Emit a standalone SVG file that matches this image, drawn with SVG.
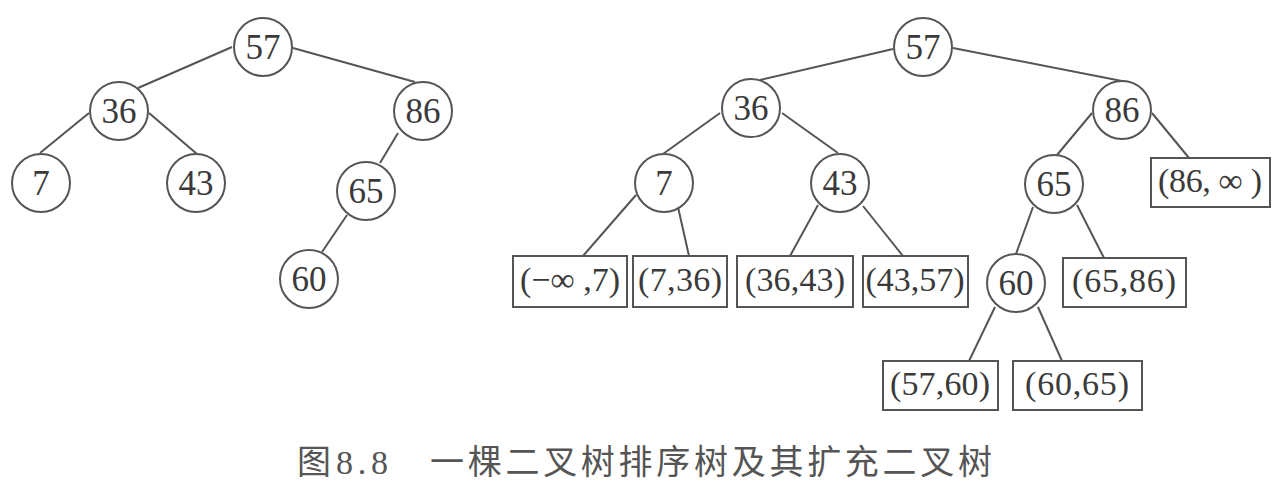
<svg xmlns="http://www.w3.org/2000/svg" width="1281" height="492" viewBox="0 0 1281 492">
<style>
.e{stroke:#555;stroke-width:2;fill:none}
.c{fill:#fff;stroke:#555;stroke-width:2}
.b{fill:#fff;stroke:#555;stroke-width:2}
.t{font-family:"Liberation Serif","Times New Roman",serif;font-size:35px;fill:#3a3a3a;text-anchor:middle}
.bt{font-family:"Liberation Serif","Times New Roman",serif;font-size:34px;fill:#3a3a3a;text-anchor:middle}
.cap{font-family:"Noto Sans CJK SC",sans-serif;font-size:34px;fill:#555}
.capn{font-family:"Liberation Serif",serif;font-size:34px;fill:#555}
</style>
<rect width="1281" height="492" fill="#fff"/>
<g id="connectors">
<line class="e" x1="232" y1="47" x2="138" y2="88"/>
<line class="e" x1="293" y1="48" x2="415" y2="82"/>
<line class="e" x1="89" y1="113" x2="40" y2="153"/>
<line class="e" x1="149" y1="113" x2="197" y2="154"/>
<line class="e" x1="398" y1="133" x2="380" y2="163"/>
<line class="e" x1="347" y1="215" x2="322" y2="252"/>
<line class="e" x1="760" y1="80" x2="893" y2="49"/>
<line class="e" x1="953" y1="48" x2="1127" y2="82"/>
<line class="e" x1="720" y1="113" x2="663" y2="154"/>
<line class="e" x1="782" y1="113" x2="838" y2="153"/>
<line class="e" x1="636" y1="195" x2="583" y2="256"/>
<line class="e" x1="678" y1="207" x2="689" y2="256"/>
<line class="e" x1="818" y1="205" x2="790" y2="256"/>
<line class="e" x1="863" y1="206" x2="903" y2="256"/>
<line class="e" x1="1092" y1="113" x2="1057" y2="155"/>
<line class="e" x1="1152" y1="113" x2="1189" y2="158"/>
<line class="e" x1="1033" y1="207" x2="1016" y2="254"/>
<line class="e" x1="1077" y1="205" x2="1104" y2="258"/>
<line class="e" x1="995" y1="307" x2="969" y2="361"/>
<line class="e" x1="1038" y1="307" x2="1062" y2="361"/>
</g>
<g id="L57"><circle class="c" cx="263" cy="47" r="29"/><text class="t" x="263" y="59">57</text></g>
<g id="L36"><circle class="c" cx="119" cy="111" r="29"/><text class="t" x="119" y="123">36</text></g>
<g id="L86"><circle class="c" cx="423" cy="111" r="29"/><text class="t" x="423" y="123">86</text></g>
<g id="L7"><circle class="c" cx="41" cy="183" r="29"/><text class="t" x="41" y="195">7</text></g>
<g id="L43"><circle class="c" cx="196" cy="183" r="29"/><text class="t" x="196" y="195">43</text></g>
<g id="L65"><circle class="c" cx="366" cy="191" r="29"/><text class="t" x="366" y="203">65</text></g>
<g id="L60"><circle class="c" cx="309" cy="279" r="29"/><text class="t" x="309" y="291">60</text></g>
<g id="R57"><circle class="c" cx="923" cy="47" r="29"/><text class="t" x="923" y="59">57</text></g>
<g id="R36"><circle class="c" cx="751" cy="108" r="29"/><text class="t" x="751" y="120">36</text></g>
<g id="R86"><circle class="c" cx="1122" cy="110" r="29"/><text class="t" x="1122" y="122">86</text></g>
<g id="R7"><circle class="c" cx="664" cy="183" r="29"/><text class="t" x="664" y="195">7</text></g>
<g id="R43"><circle class="c" cx="840" cy="183" r="29"/><text class="t" x="840" y="195">43</text></g>
<g id="R65"><circle class="c" cx="1054" cy="184" r="29"/><text class="t" x="1054" y="196">65</text></g>
<g id="R60"><circle class="c" cx="1016" cy="283" r="29"/><text class="t" x="1016" y="295">60</text></g>
<g id="B1"><rect class="b" x="513" y="256" width="114" height="51"/><text class="bt" x="570" y="291" textLength="100" lengthAdjust="spacing">(−∞ ,7)</text></g>
<g id="B2"><rect class="b" x="633" y="256" width="94" height="51"/><text class="bt" x="680" y="291" textLength="84" lengthAdjust="spacing">(7,36)</text></g>
<g id="B3"><rect class="b" x="737" y="256" width="116" height="51"/><text class="bt" x="795" y="291" textLength="100" lengthAdjust="spacing">(36,43)</text></g>
<g id="B4"><rect class="b" x="863" y="256" width="105" height="51"/><text class="bt" x="915" y="291" textLength="99" lengthAdjust="spacing">(43,57)</text></g>
<g id="B5"><rect class="b" x="1063" y="258" width="123" height="49"/><text class="bt" x="1124" y="292" textLength="104" lengthAdjust="spacing">(65,86)</text></g>
<g id="B6"><rect class="b" x="1151" y="158" width="119" height="49"/><text class="bt" x="1210" y="192" textLength="104" lengthAdjust="spacing">(86, ∞ )</text></g>
<g id="B7"><rect class="b" x="883" y="361" width="115" height="49"/><text class="bt" x="940" y="395" textLength="100" lengthAdjust="spacing">(57,60)</text></g>
<g id="B8"><rect class="b" x="1013" y="361" width="129" height="49"/><text class="bt" x="1077" y="395" textLength="104" lengthAdjust="spacing">(60,65)</text></g>
<g id="caption">
<text class="cap" x="297" y="474">图</text>
<text class="capn" x="336" y="474" textLength="52" lengthAdjust="spacing">8.8</text>
<text class="cap" x="430" y="474" textLength="562" lengthAdjust="spacing">一棵二叉树排序树及其扩充二叉树</text>
</g>
</svg>
